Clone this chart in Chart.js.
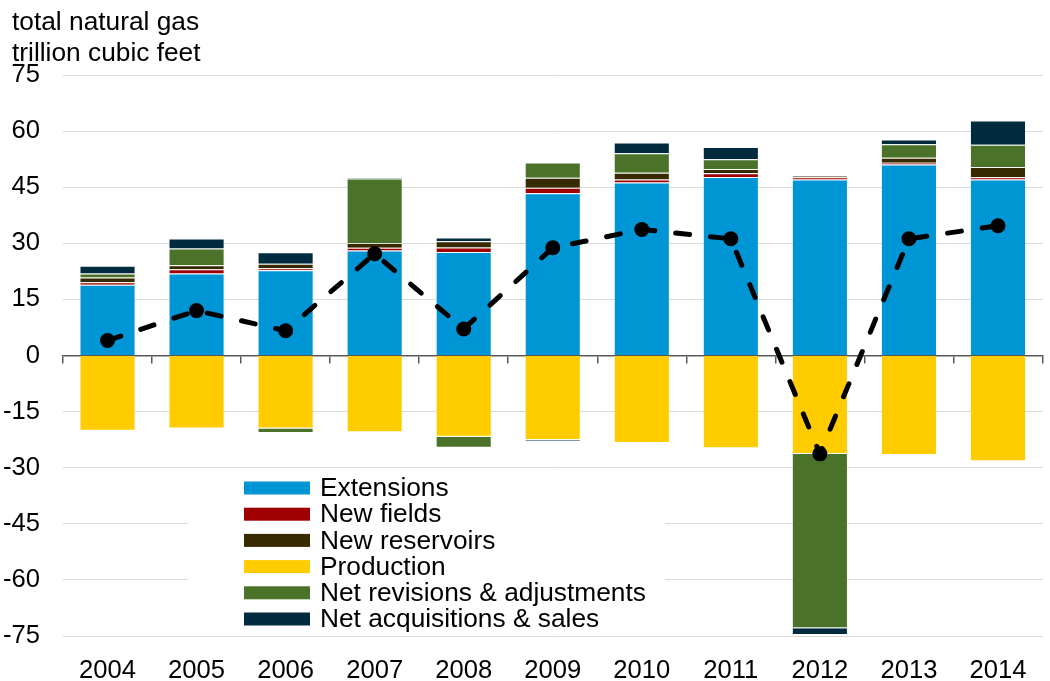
<!DOCTYPE html>
<html>
<head>
<meta charset="utf-8">
<script src="https://cdn.jsdelivr.net/npm/chart.js@4.4.1/dist/chart.umd.min.js"></script>
<style>
  html, body { margin: 0; padding: 0; background: #fff; }
  canvas { display: block; }
</style>
</head>
<body>
<canvas id="c" width="1050" height="681"></canvas>
<script>
// ---- data ----
const years = ['2004','2005','2006','2007','2008','2009','2010','2011','2012','2013','2014'];
const extensions      = [18.9, 21.9, 22.8, 28.1, 27.7, 43.4, 46.25, 47.7, 47.05, 51.1, 47.05];
const newFields       = [0.7, 1.16, 0.5, 0.7, 1.16, 1.43, 0.8, 1.0, 0.6, 0.45, 0.6];
const newReservoirs   = [1.25, 1.07, 1.2, 1.25, 1.7, 2.68, 1.79, 1.16, 0.45, 1.34, 2.77];
const production      = [-20.1, -19.5, -19.5, -20.5, -21.7, -22.6, -23.4, -24.8, -26.35, -26.6, -28.3];
const netRevisions    = [1.07, 4.46, -1.25, 17.25, -2.95, 4.1, 5.27, 2.6, -46.6, 3.6, 5.9];
const netAcquisitions = [2.05, 2.68, 3.1, 0.27, 1.0, -0.3, 2.86, 3.3, -1.8, 1.25, 6.5];
const totalChange     = [4.0, 12.0, 6.6, 27.2, 7.1, 28.8, 33.7, 31.2, -26.3, 31.2, 34.7];
const yTicks = [-75, -60, -45, -30, -15, 0, 15, 30, 45, 60, 75];
const titleLines = ['total natural gas', 'trillion cubic feet'];

const FAMILY = 'Arial, "Liberation Sans", sans-serif';
const FSIZE = 25.6;
const TSIZE = 26.3;

function bar(label, data, color) {
  return { type: 'bar', label, data, backgroundColor: color,
           borderColor: 'rgba(255,255,255,0.12)', borderWidth: 1, order: 2 };
}

const annot = {
  id: 'annot',
  afterDraw(chart) {
    const ctx = chart.ctx;
    ctx.save();
    ctx.font = TSIZE + 'px ' + FAMILY;
    ctx.fillStyle = '#000';
    ctx.textAlign = 'left';
    ctx.textBaseline = 'alphabetic';
    titleLines.forEach((t, i) => ctx.fillText(t, 12, 30 + i * 31));
    // legend
    ctx.fillStyle = '#fff';
    ctx.fillRect(188, 472, 477, 160);
    chart.data.datasets.filter(d => d.type === 'bar').forEach((d, i) => {
      const cy = 488 + i * 26.2;
      ctx.fillStyle = d.backgroundColor;
      ctx.fillRect(244, cy - 6.5, 66, 13);
      ctx.fillStyle = '#000';
      ctx.textBaseline = 'middle';
      ctx.fillText(d.label, 320, cy + 1);
    });
    ctx.restore();
  }
};

new Chart(document.getElementById('c'), {
  data: {
    labels: years,
    datasets: [
      bar('Extensions', extensions, '#0096D6'),
      bar('New fields', newFields, '#9E0000'),
      bar('New reservoirs', newReservoirs, '#372A00'),
      bar('Production', production, '#FFCC00'),
      bar('Net revisions & adjustments', netRevisions, '#4A7229'),
      bar('Net acquisitions & sales', netAcquisitions, '#002A3D'),
      {
        type: 'line', label: 'Total', data: totalChange, order: 0,
        borderColor: '#000', borderWidth: 5, borderDash: [14, 21], borderCapStyle: 'round',
        backgroundColor: '#000', pointRadius: 7.5, pointBorderWidth: 0, pointHoverRadius: 7.5,
        fill: false, tension: 0
      }
    ]
  },
  options: {
    responsive: false,
    animation: false,
    devicePixelRatio: 1,
    layout: { padding: { top: 75, right: 5, left: 0, bottom: 0 } },
    datasets: { bar: { categoryPercentage: 1, barPercentage: 0.63 } },
    plugins: { legend: { display: false }, tooltip: { enabled: false }, title: { display: false } },
    scales: {
      x: {
        type: 'category', stacked: true, offset: true,
        grid: { display: false }, border: { display: false },
        ticks: { color: '#000', font: { family: FAMILY, size: FSIZE }, padding: 12, maxRotation: 0 },
        afterFit(s) { s.height = 45; }
      },
      x2: {
        type: 'category', position: { y: 0 }, offset: true, z: 1,
        labels: years,
        grid: { offset: true, drawOnChartArea: false, drawTicks: true, tickLength: 7, color: '#595959', lineWidth: 1.5 },
        border: { display: true, color: '#595959', width: 1.5 },
        ticks: { display: false }
      },
      y: {
        stacked: true, min: -75, max: 75,
        afterBuildTicks(s) { s.ticks = yTicks.map(v => ({ value: v })); },
        grid: { color: ctx => ctx.tick && ctx.tick.value === 0 ? 'rgba(0,0,0,0)' : '#d9d9d9', lineWidth: 1, drawTicks: false },
        border: { display: false },
        ticks: { color: '#000', font: { family: FAMILY, size: FSIZE }, padding: 23 },
        afterFit(s) { s.width = 63; }
      }
    }
  },
  plugins: [annot]
});
</script>
</body>
</html>
